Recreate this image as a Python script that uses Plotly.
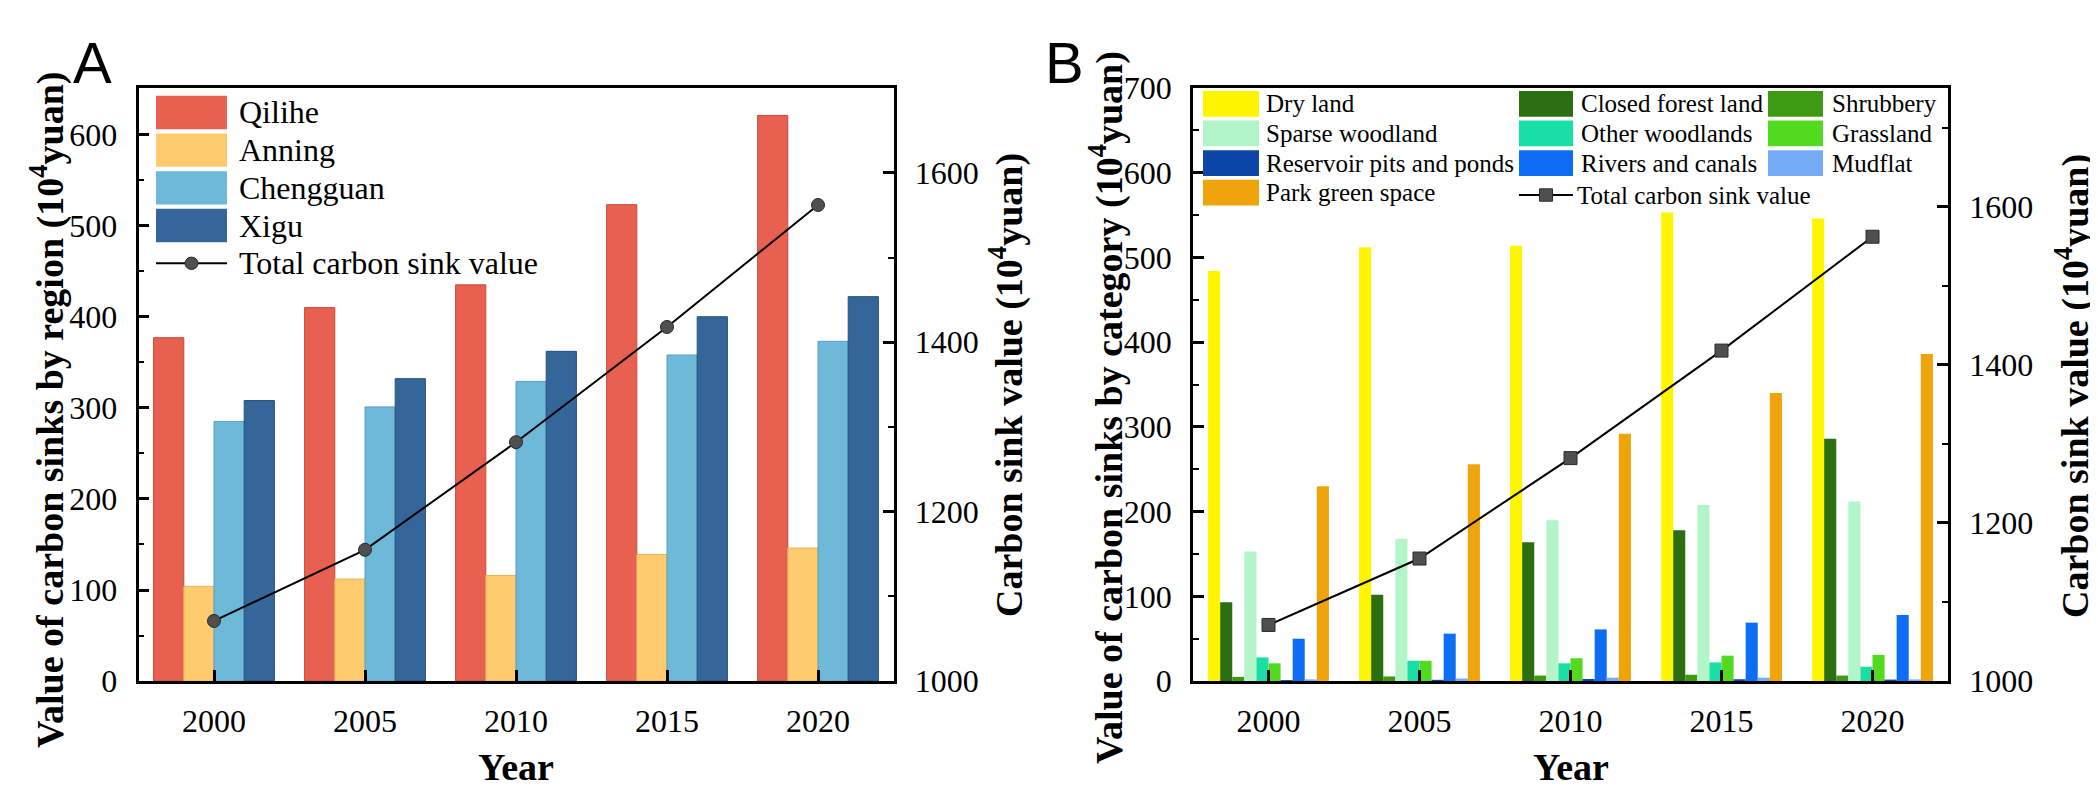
import plotly.graph_objects as go

years = ["2000", "2005", "2010", "2015", "2020"]

# Panel A: carbon sinks by region (10^4 yuan)
regions = ["Qilihe", "Anning", "Chengguan", "Xigu"]
qilihe = [377, 410, 435, 523, 621]
anning = [104, 112, 116, 139, 146]
chengguan = [285, 301, 329, 358, 373]
xigu = [308, 332, 362, 400, 422]
region_values = [qilihe, anning, chengguan, xigu]
region_colors = ["#E8604F", "#FECB6E", "#6DB9D7", "#356699"]
region_edges = ["#C94A3B", "#E8B257", "#58A2C0", "#26507E"]

# Total carbon sink value (right axis, both panels)
total_value = [1071, 1155, 1282, 1418, 1562]

# Panel B: carbon sinks by category (10^4 yuan)
categories = ["Dry land", "Closed forest land", "Shrubbery",
              "Sparse woodland", "Other woodlands", "Grassland",
              "Reservoir pits and ponds", "Rivers and canals", "Mudflat",
              "Park green space"]
dry_land = [484, 512, 514, 553, 546]
closed_forest = [93, 102, 164, 178, 286]
shrubbery = [5, 5.5, 6.5, 7.5, 6.5]
sparse_woodland = [153, 168, 190, 208, 212]
other_woodlands = [28, 24, 21, 22, 17]
grassland = [21, 24, 27, 30, 31]
reservoir = [1.2, 1.5, 2.5, 2.2, 1.8]
rivers = [50, 56, 61, 69, 78]
mudflat = [2, 3, 4, 4, 2]
park = [230, 256, 292, 340, 386]
category_values = [dry_land, closed_forest, shrubbery, sparse_woodland,
                   other_woodlands, grassland, reservoir, rivers, mudflat, park]
category_colors = ["#FFF500", "#2B6F12", "#3C9B12", "#B2F5C8", "#1ADFA5",
                   "#52DA1E", "#0B46A8", "#0D6EF5", "#74ADF6", "#EFA40C"]

# page geometry in pixels
W, H = 2098, 799
TOP, BOTTOM = 65, 686
A_LEFT, A_RIGHT = 130.5, 885.5
B_LEFT, B_RIGHT = 1185, 1940
SERIF = "Liberation Serif"


def fx(px):
    return px / W


def fy(py):
    return 1 - py / H


fig = go.Figure()

for name, vals, col, edge in zip(regions, region_values, region_colors, region_edges):
    fig.add_trace(go.Bar(x=years, y=vals, name=name, xaxis="x", yaxis="y",
                         marker=dict(color=col, line=dict(color=edge, width=1)),
                         showlegend=False))

fig.add_trace(go.Scatter(x=years, y=total_value, xaxis="x", yaxis="y2",
                         mode="lines+markers", showlegend=False,
                         line=dict(color="black", width=2),
                         marker=dict(symbol="circle", size=13, color="#4F4F4F",
                                     line=dict(color="#2A2A2A", width=1))))

for name, vals, col in zip(categories, category_values, category_colors):
    fig.add_trace(go.Bar(x=years, y=vals, name=name, xaxis="x2", yaxis="y3",
                         marker=dict(color=col, line=dict(width=0)),
                         showlegend=False))

fig.add_trace(go.Scatter(x=years, y=total_value, xaxis="x2", yaxis="y4",
                         mode="lines+markers", showlegend=False,
                         line=dict(color="black", width=2),
                         marker=dict(symbol="square", size=13, color="#4F4F4F",
                                     line=dict(color="#2A2A2A", width=1))))

tickfont = dict(family=SERIF, size=32, color="black")
ydom = [fy(BOTTOM), fy(TOP)]


def xaxis_style(left, right, anchor):
    return dict(domain=[fx(left), fx(right)], anchor=anchor, type="category",
                range=[-0.5, 4.5], ticks="inside", ticklen=11, tickwidth=2.5,
                tickcolor="black", showline=True, linewidth=2.5,
                linecolor="black", mirror=True, showgrid=False,
                zeroline=False, tickfont=tickfont, ticklabelstandoff=10)


def yaxis_style(rng, dtick, minor, anchor, side="left", overlaying=None):
    d = dict(domain=ydom, anchor=anchor, range=rng, dtick=dtick, side=side,
             ticks="inside", ticklen=11, tickwidth=2.5, tickcolor="black",
             showline=True, linewidth=2.5, linecolor="black", showgrid=False,
             zeroline=False, tickfont=tickfont, ticklabelstandoff=12,
             minor=dict(dtick=minor, ticks="inside", ticklen=6, tickwidth=2,
                        tickcolor="black", showgrid=False))
    if overlaying:
        d["overlaying"] = overlaying
    return d


fig.update_layout(
    width=W, height=H, autosize=False,
    margin=dict(l=0, r=0, t=0, b=0),
    paper_bgcolor="white", plot_bgcolor="white",
    barmode="group", bargap=0.2, bargroupgap=0,
    xaxis=xaxis_style(A_LEFT, A_RIGHT, "y"),
    yaxis=yaxis_style([0, 651], 100, 50, "x"),
    yaxis2=yaxis_style([1000, 1700], 200, 100, "x", "right", "y"),
    xaxis2=xaxis_style(B_LEFT, B_RIGHT, "y3"),
    yaxis3=yaxis_style([0, 700], 100, 50, "x2"),
    yaxis4=yaxis_style([1000, 1750], 200, 100, "x2", "right", "y3"),
)

# axis titles and panel letters
title_font = dict(family=SERIF, size=38, color="black", weight="bold")
texts = [
    ("Value of carbon sinks by region (10<sup>4</sup>yuan)", 40, 402, -90),
    ("Carbon sink value (10<sup>4</sup>yuan)", 998, 376, -90),
    ("Value of carbon sinks by category (10<sup>4</sup>yuan)", 1099, 400, -90),
    ("Carbon sink value (10<sup>4</sup>yuan)", 2064, 377, -90),
    ("Year", (A_LEFT + A_RIGHT) / 2, 776, 0),
    ("Year", (B_LEFT + B_RIGHT) / 2, 776, 0),
]
for txt, x, y, ang in texts:
    fig.add_annotation(text=txt, x=fx(x), y=fy(y), xref="paper", yref="paper",
                       xanchor="center", yanchor="middle", textangle=ang,
                       showarrow=False, font=title_font)

for letter, x in [("A", 84), ("B", 1056)]:
    fig.add_annotation(text=letter, x=fx(x), y=fy(38), xref="paper", yref="paper",
                       xanchor="center", yanchor="middle", showarrow=False,
                       font=dict(family="Liberation Sans", size=58, color="black"))


def swatch(x0, x1, yc, h, color):
    fig.add_shape(type="rect", xref="paper", yref="paper",
                  x0=fx(x0), x1=fx(x1), y0=fy(yc + h / 2), y1=fy(yc - h / 2),
                  fillcolor=color, line=dict(width=0))


def label(text, x, yc, size):
    fig.add_annotation(text=text, x=fx(x), y=fy(yc), xref="paper", yref="paper",
                       xanchor="left", yanchor="middle", showarrow=False,
                       font=dict(family=SERIF, size=size, color="black"))


def line_key(x0, x1, yc, symbol):
    fig.add_shape(type="line", xref="paper", yref="paper", x0=fx(x0), x1=fx(x1),
                  y0=fy(yc), y1=fy(yc), line=dict(color="black", width=2))
    xc, r = (x0 + x1) / 2, 6.5
    fig.add_shape(type=symbol, xref="paper", yref="paper",
                  x0=fx(xc - r), x1=fx(xc + r), y0=fy(yc + r), y1=fy(yc - r),
                  fillcolor="#4F4F4F", line=dict(color="#2A2A2A", width=1))


# legend of panel A
a_rows = [90.5 + 39.5 * i for i in range(5)]
for name, col, yc in zip(regions, region_colors, a_rows):
    swatch(148, 219, yc, 35, col)
    label(name, 229, yc, 32)
line_key(148, 219, a_rows[4], "circle")
label("Total carbon sink value", 229, a_rows[4], 32)

# legend of panel B (three columns, row-major)
b_cols = [(1195, 1251, 1256), (1511, 1565, 1571), (1760, 1815, 1822)]
b_rows = [81.5, 112.5, 143.5, 174.5]
for i, (name, col) in enumerate(zip(categories, category_colors)):
    c0, c1, tx = b_cols[i % 3]
    yc = b_rows[i // 3]
    swatch(c0, c1, yc, 27, col)
    label(name, tx, yc, 25)
line_key(1511, 1565, 177, "rect")
label("Total carbon sink value", 1567, 177, 25)

fig.write_html("out.html")
